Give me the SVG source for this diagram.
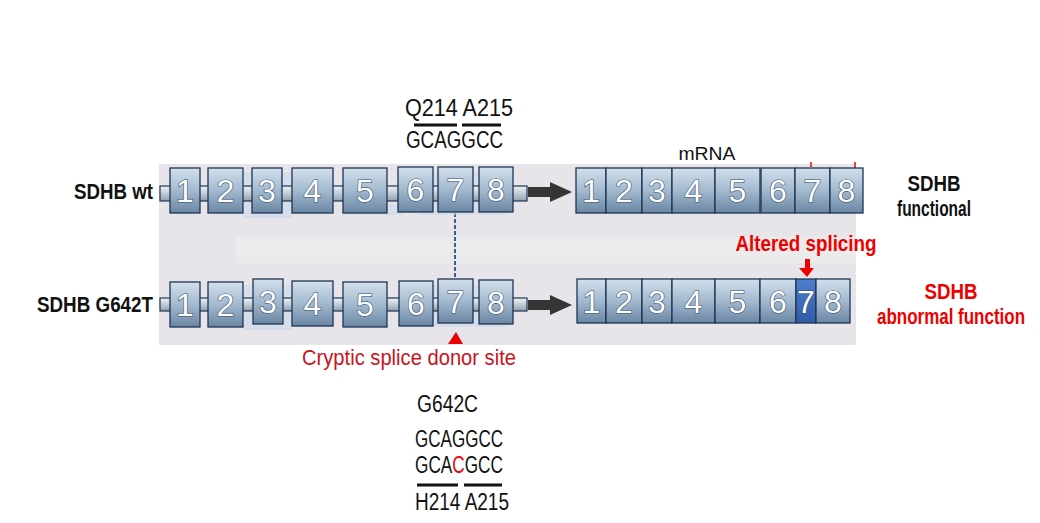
<svg xmlns="http://www.w3.org/2000/svg" width="1040" height="523" viewBox="0 0 1040 523">
<defs>
<linearGradient id="gEx" x1="0" y1="0" x2="0" y2="1">
<stop offset="0" stop-color="#d3e0ec"/>
<stop offset="0.5" stop-color="#a3b9cf"/>
<stop offset="1" stop-color="#6a86a3"/>
</linearGradient>
<linearGradient id="gBar" x1="0" y1="0" x2="0" y2="1">
<stop offset="0" stop-color="#eef2f6"/>
<stop offset="0.5" stop-color="#c2ccd6"/>
<stop offset="1" stop-color="#8f9eae"/>
</linearGradient>
<linearGradient id="gBlue" x1="0" y1="0" x2="0" y2="1">
<stop offset="0" stop-color="#4f7fcf"/>
<stop offset="1" stop-color="#2f5aa8"/>
</linearGradient>
<style>
.ex{fill:url(#gEx);stroke:#1e3552;stroke-width:1.3}
.exb{fill:url(#gBlue);stroke:#1e3552;stroke-width:1.3}
.bar{fill:url(#gBar);stroke:#1e3552;stroke-width:1.2}
.sh{fill:#c9d9e9;opacity:0.6}
.num{font-family:"Liberation Sans Narrow","Arial Narrow","Liberation Sans",sans-serif;font-size:32px;fill:#ffffff;stroke:#35506f;stroke-width:1.2;paint-order:stroke;text-anchor:middle}
.lbl{font-family:"Liberation Sans Narrow","Arial Narrow","Liberation Sans",sans-serif;font-weight:bold;font-size:22px}
.seq{font-family:"Liberation Sans Narrow","Arial Narrow","Liberation Sans",sans-serif;font-size:23px;fill:#111}
.red{fill:#ee0000}
</style>
</defs>
<rect width="1040" height="523" fill="#ffffff"/>
<rect x="159" y="164" width="697" height="181" fill="#e7e5ea"/>
<rect x="236" y="237" width="620" height="26" fill="#ebebeb"/>
<line x1="811" y1="162" x2="811" y2="167" stroke="#d01010" stroke-width="1.5"/>
<line x1="855" y1="162" x2="855" y2="172" stroke="#d01010" stroke-width="1.5"/>

<g id="connectors">
<polygon points="528,187 550,187 550,182 572,192 550,202 550,197 528,197" fill="#353535"/>
<polygon points="528,300 550,300 550,295 572,305 550,315 550,310 528,310" fill="#353535"/>
<line x1="455" y1="213" x2="455" y2="279" stroke="#3a5a9a" stroke-width="2" stroke-dasharray="4,2"/>
<polygon points="456,332 463,344 448,344" fill="#ee0000"/>
<polygon points="805,259 810,259 810,268 814,268 807,277 799,268 805,268" fill="#ee0000"/>
</g>

<g id="gene-wt">
<rect class="sh" x="244" y="172" width="48" height="46"/>
<rect class="sh" x="343" y="205" width="60" height="10"/>
<rect class="sh" x="418" y="172" width="88" height="43"/>
<rect class="bar" x="160" y="186" width="367" height="15"/>
<rect class="ex" x="170" y="168" width="30" height="45"/><text class="num" x="185" y="202">1</text>
<rect class="ex" x="208" y="168" width="35" height="45"/><text class="num" x="225.5" y="202">2</text>
<rect class="ex" x="252" y="168" width="30" height="45"/><text class="num" x="267" y="202">3</text>
<rect class="ex" x="292" y="168" width="41" height="45"/><text class="num" x="312.5" y="202">4</text>
<rect class="ex" x="343" y="168" width="44" height="45"/><text class="num" x="365" y="202">5</text>
<rect class="ex" x="398" y="167" width="35" height="45"/><text class="num" x="415.5" y="201">6</text>
<rect class="ex" x="438" y="167" width="35" height="45"/><text class="num" x="455.5" y="201">7</text>
<rect class="ex" x="479" y="167" width="34" height="45"/><text class="num" x="496" y="201">8</text>
</g>

<g id="gene-mut">
<rect class="sh" x="244" y="285" width="48" height="45"/>
<rect class="sh" x="418" y="285" width="88" height="42"/>
<rect class="bar" x="160" y="298" width="367" height="13"/>
<rect class="ex" x="170" y="282" width="30" height="45"/><text class="num" x="185" y="316">1</text>
<rect class="ex" x="208" y="282" width="35" height="45"/><text class="num" x="225.5" y="316">2</text>
<rect class="ex" x="253" y="279" width="30" height="45"/><text class="num" x="268" y="313">3</text>
<rect class="ex" x="292" y="281" width="41" height="45"/><text class="num" x="312.5" y="315">4</text>
<rect class="ex" x="343" y="282" width="44" height="45"/><text class="num" x="365" y="316">5</text>
<rect class="ex" x="399" y="281" width="34" height="45"/><text class="num" x="416" y="315">6</text>
<rect class="ex" x="438" y="279" width="35" height="44"/><text class="num" x="455.5" y="313">7</text>
<rect class="ex" x="479" y="280" width="34" height="44"/><text class="num" x="496" y="314">8</text>
</g>

<g id="mrna-wt">
<rect class="ex" x="576" y="168" width="30" height="45"/><text class="num" x="591" y="202">1</text>
<rect class="ex" x="606" y="168" width="36" height="45"/><text class="num" x="624" y="202">2</text>
<rect class="ex" x="642" y="168" width="30" height="45"/><text class="num" x="657" y="202">3</text>
<rect class="ex" x="672" y="168" width="43" height="45"/><text class="num" x="693.5" y="202">4</text>
<rect class="ex" x="715" y="168" width="45" height="45"/><text class="num" x="737.5" y="202">5</text>
<rect class="ex" x="761" y="168" width="34" height="45"/><text class="num" x="778" y="202">6</text>
<rect class="ex" x="795" y="168" width="35" height="45"/><text class="num" x="812.5" y="202">7</text>
<rect class="ex" x="830" y="168" width="33" height="45"/><text class="num" x="846.5" y="202">8</text>
</g>

<g id="mrna-mut">
<rect class="ex" x="577" y="279" width="29" height="44"/><text class="num" x="591.5" y="313">1</text>
<rect class="ex" x="606" y="279" width="36" height="44"/><text class="num" x="624" y="313">2</text>
<rect class="ex" x="642" y="279" width="30" height="44"/><text class="num" x="657" y="313">3</text>
<rect class="ex" x="672" y="279" width="43" height="44"/><text class="num" x="693.5" y="313">4</text>
<rect class="ex" x="715" y="279" width="45" height="44"/><text class="num" x="737.5" y="313">5</text>
<rect class="ex" x="760" y="279" width="36" height="44"/><text class="num" x="778" y="313">6</text>
<rect class="exb" x="796" y="279" width="20" height="44"/><text class="num" x="806" y="313">7</text>
<rect class="ex" x="816" y="279" width="34" height="44"/><text class="num" x="833" y="313">8</text>
</g>

<g id="labels">
<text class="lbl" x="153" y="199" text-anchor="end" textLength="79" lengthAdjust="spacingAndGlyphs" fill="#111">SDHB wt</text>
<text class="lbl" x="153" y="312" text-anchor="end" textLength="116" lengthAdjust="spacingAndGlyphs" fill="#111">SDHB G642T</text>
<text class="lbl" x="934" y="191" text-anchor="middle" textLength="53" lengthAdjust="spacingAndGlyphs" fill="#111">SDHB</text>
<text class="lbl" x="934" y="216" text-anchor="middle" textLength="74" lengthAdjust="spacingAndGlyphs" fill="#111">functional</text>
<text class="lbl red" x="806" y="251" text-anchor="middle" textLength="141" lengthAdjust="spacingAndGlyphs">Altered splicing</text>
<text class="lbl red" x="951" y="299" text-anchor="middle" textLength="53" lengthAdjust="spacingAndGlyphs">SDHB</text>
<text class="lbl red" x="951" y="324" text-anchor="middle" textLength="148" lengthAdjust="spacingAndGlyphs">abnormal function</text>
<text x="707" y="160" font-family="'Liberation Sans',Arial,sans-serif" font-size="19" fill="#111" text-anchor="middle" textLength="57" lengthAdjust="spacingAndGlyphs">mRNA</text>
<text x="409" y="365" font-family="'Liberation Sans Narrow','Arial Narrow','Liberation Sans',sans-serif" font-size="22" fill="#c8141c" text-anchor="middle" textLength="214" lengthAdjust="spacingAndGlyphs">Cryptic splice donor site</text>
</g>

<g id="seq-top">
<text class="seq" x="405" y="116" font-size="24" textLength="108" lengthAdjust="spacingAndGlyphs">Q214 A215</text>
<line x1="414" y1="125" x2="457" y2="125" stroke="#111" stroke-width="3"/>
<line x1="462" y1="125" x2="501" y2="125" stroke="#111" stroke-width="3"/>
<text class="seq" x="406" y="148" textLength="97" lengthAdjust="spacingAndGlyphs">GCAGGCC</text>
</g>

<g id="seq-bottom">
<text class="seq" x="417" y="412" font-size="25" textLength="61" lengthAdjust="spacingAndGlyphs">G642C</text>
<text class="seq" x="415" y="447" textLength="88" lengthAdjust="spacingAndGlyphs">GCAGGCC</text>
<text class="seq" x="415" y="473" textLength="88" lengthAdjust="spacingAndGlyphs">GCA<tspan style="fill:#ee0000">C</tspan>GCC</text>
<line x1="417" y1="485" x2="458" y2="485" stroke="#111" stroke-width="3"/>
<line x1="464" y1="485" x2="502" y2="485" stroke="#111" stroke-width="3"/>
<text class="seq" x="415" y="510" textLength="94" lengthAdjust="spacingAndGlyphs">H214 A215</text>
</g>
</svg>
